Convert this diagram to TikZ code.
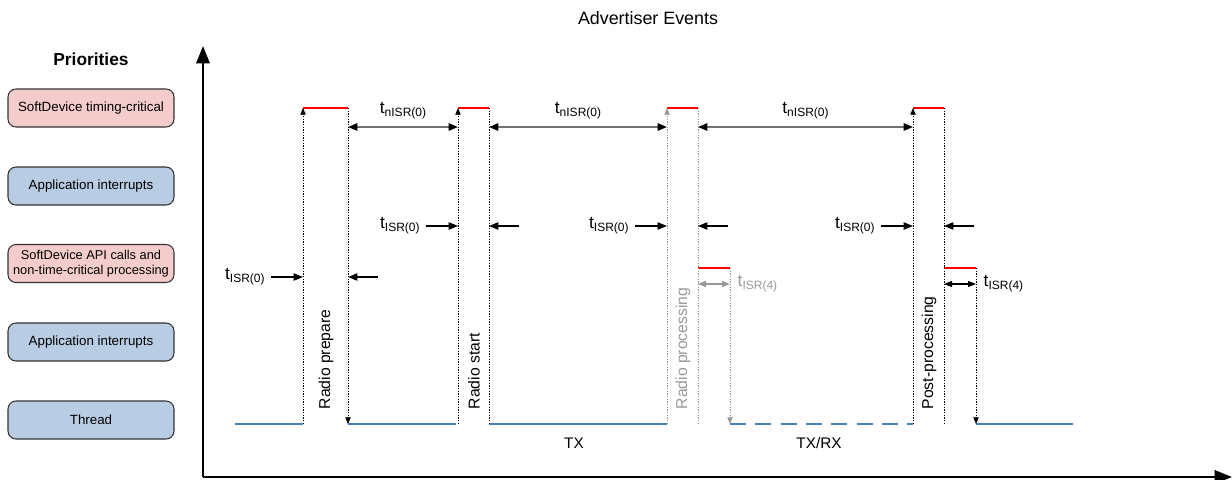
\documentclass[tikz,border=0pt]{standalone}
\usepackage{fontspec}
\setmainfont{Liberation Sans}
\usetikzlibrary{arrows.meta,positioning}
\definecolor{ink}{HTML}{333333}
\definecolor{hotfill}{HTML}{F4CCCC}
\definecolor{coldfill}{HTML}{B8CCE4}
\definecolor{baseblue}{HTML}{4A7EC0}
\definecolor{fade}{HTML}{999999}
\definecolor{spangray}{HTML}{707070}
\newcommand{\tlab}[1]{{\fontsize{13}{15}\selectfont t}\raisebox{-0.45ex}{\fontsize{9}{10}\selectfont #1}}
\tikzset{
  prio/.style={draw=ink, line width=0.8pt, rounded corners=6pt, minimum width=124.5pt, minimum height=28.5pt,
               align=center, font=\fontsize{10}{11.5}\selectfont},
  hot/.style={prio, fill=hotfill},
  cold/.style={prio, fill=coldfill},
  axis/.style={line width=1.7pt, -{Triangle[length=13pt,width=10pt]}},
  guide/.style={line width=0.6pt, dash pattern=on 1pt off 1pt},
  up/.style={guide, -{Triangle[length=5pt,width=4pt]}},
  level/.style={red, line width=1.6pt},
  base/.style={baseblue, line width=1.6pt},
  span/.style={spangray, line width=1.4pt,
               {Triangle[length=7pt,width=5.5pt,color=black]}-{Triangle[length=7pt,width=5.5pt,color=black]}},
  isr/.style={line width=0.9pt, -{Triangle[length=7pt,width=5.5pt]}},
  short/.style={line width=0.9pt, {Triangle[length=6pt,width=4.5pt]}-{Triangle[length=6pt,width=4.5pt]}},
  phase/.style={rotate=90, anchor=west, font=\fontsize{11.8}{14}\selectfont},
}
\begin{document}
\begin{tikzpicture}[x=0.75pt,y=-0.75pt]
  \useasboundingbox (0,0) rectangle (1232,479);

  \node (title) at (648,18) {\fontsize{13.4}{16}\selectfont Advertiser Events};
  \node[font=\fontsize{13}{15}\selectfont\bfseries] (prio) at (91,59) {Priorities};
  \node[hot]  (sdcrit) at (91,108)   {SoftDevice timing-critical};
  \node[cold] (appint) at (91,186)   {Application interrupts};
  \node[hot,font=\fontsize{9.6}{11.5}\selectfont] (sdapi) at (91,263.5) {SoftDevice API calls and\\non-time-critical processing};
  \node[cold] (appint2) at (91,342)  {Application interrupts};
  \node[cold] (thread) at (91,420)   {Thread};

  % axes
  \coordinate (O) at (203,477);
  \coordinate (ytop) at (203,46);
  \coordinate (xend) at (1232,477);
  \draw[axis] (O) -- (ytop);
  \draw[axis] (O) -- (xend);

  % pulse corners: r = rising edge, f = falling edge
  \foreach \n/\r/\f in {1/303/348, 2/458/489, 3/667/698, 4/913/944} {
    \coordinate (r\n) at (\r,424);
    \coordinate (R\n) at (\r,108);
    \coordinate (f\n) at (\f,424);
    \coordinate (F\n) at (\f,108);
    \coordinate (sr\n) at (\r,127);
    \coordinate (sf\n) at (\f,127);
  }
  \coordinate (e3) at (730,424);
  \coordinate (E3) at (730,268);
  \coordinate (m3) at (698,268);
  \coordinate (e4) at (976,424);
  \coordinate (E4) at (976,268);
  \coordinate (m4) at (944,268);

  % thread level
  \coordinate (b0) at (235,424);
  \coordinate (b2) at (456,424);
  \coordinate (b5) at (1073,424);
  \draw[base] (b0) -- (r1);
  \draw[base] (f1) -- (b2);
  \draw[base] (f2) -- (r3);
  \draw[base, dash pattern=on 12pt off 7pt] (e3) -- (r4);
  \draw[base] (e4) -- (b5);

  % priority levels
  \draw[level] (R1) -- (F1);
  \draw[level] (R2) -- (F2);
  \draw[level] (R3) -- (F3);
  \draw[level] (m3) -- (E3);
  \draw[level] (R4) -- (F4);
  \draw[level] (m4) -- (E4);

  % edges
  \draw[up] (r1) -- (R1);
  \draw[up] (F1) -- (f1);
  \draw[up] (r2) -- (R2);
  \draw[guide] (F2) -- (f2);
  \draw[up,fade] (r3) -- (R3);
  \draw[guide,fade] (F3) -- (f3);
  \draw[up,fade] (E3) -- (e3);
  \draw[up] (r4) -- (R4);
  \draw[guide] (F4) -- (f4);
  \draw[up] (E4) -- (e4);

  % phase names
  \node[phase] (prep) at (326,414) {Radio prepare};
  \node[phase] (start) at (474,414) {Radio start};
  \node[phase,fade] (proc) at (683,414) {Radio processing};
  \node[phase] (post) at (929,414) {Post-processing};
  \node[font=\fontsize{11.5}{14}\selectfont] (tx) at (574,443) {TX};
  \node[font=\fontsize{11.5}{14}\selectfont] (txrx) at (819,443) {TX/RX};

  % nISR spans
  \draw[span] (sf1) -- node[above=2pt,black] (n1) {\tlab{nISR(0)}} (sr2);
  \draw[span] (sf2) -- node[above=2pt,black] (n2) {\tlab{nISR(0)}} (sr3);
  \draw[span] (sf3) -- node[above=2pt,black] (n3) {\tlab{nISR(0)}} (sr4);

  % ISR(0) latencies
  \coordinate (a1) at (271,277); \coordinate (A1) at (303,277);
  \coordinate (c1) at (378,277); \coordinate (C1) at (348,277);
  \draw[isr] (a1) node[left=1pt] (i1) {\tlab{ISR(0)}} -- (A1);
  \draw[isr] (c1) -- (C1);
  \foreach \n/\r/\f in {2/458/489, 3/667/698, 4/913/944} {
    \coordinate (a\n) at ({\r-32},226); \coordinate (A\n) at (\r,226);
    \coordinate (c\n) at ({\f+30},226); \coordinate (C\n) at (\f,226);
    \draw[isr] (a\n) node[left=1pt] (i\n) {\tlab{ISR(0)}} -- (A\n);
    \draw[isr] (c\n) -- (C\n);
  }

  % ISR(4) latencies
  \coordinate (k3) at (698,284); \coordinate (K3) at (730,284);
  \coordinate (k4) at (944,284); \coordinate (K4) at (976,284);
  \draw[short,fade] (k3) -- (K3) node[right=2pt] (j3) {\tlab{ISR(4)}};
  \draw[short] (k4) -- (K4) node[right=2pt] (j4) {\tlab{ISR(4)}};
\end{tikzpicture}
\end{document}
